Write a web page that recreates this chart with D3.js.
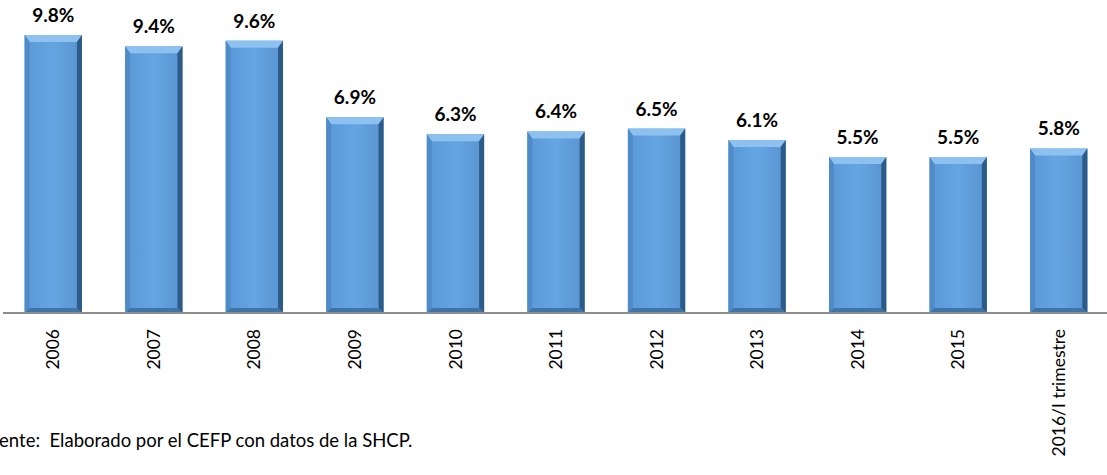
<!DOCTYPE html>
<html>
<head>
<meta charset="utf-8">
<script src="https://cdn.jsdelivr.net/npm/d3@7"></script>
<style>
  body { margin: 0; background: #fff; }
  svg { display: block; }
</style>
</head>
<body>
<div id="chart"></div>
<script>
// data
const categories = ["2006", "2007", "2008", "2009", "2010", "2011", "2012", "2013", "2014", "2015", "2016/I trimestre"];
const values = [9.8, 9.4, 9.6, 6.9, 6.3, 6.4, 6.5, 6.1, 5.5, 5.5, 5.8];
const source = "Fuente:  Elaborado por el CEFP con datos de la SHCP.";

const width = 1107, height = 475;
const baseY = 313;
const bev = 5;

const svg = d3.select("#chart").append("svg")
    .attr("width", width)
    .attr("height", height);

const defs = svg.append("defs");
// soft horizontal shading of the bar face
const gFace = defs.append("linearGradient").attr("id", "face").attr("x1", 0).attr("x2", 1).attr("y1", 0).attr("y2", 0);
gFace.append("stop").attr("offset", "0%").attr("stop-color", "#5a98d6");
gFace.append("stop").attr("offset", "50%").attr("stop-color", "#65a5e3");
gFace.append("stop").attr("offset", "100%").attr("stop-color", "#5893cf");

const x = d3.scaleBand()
    .domain(categories)
    .range([3, width + 2])
    .paddingInner(0.43)
    .paddingOuter(0.215);

const y = d3.scaleLinear()
    .domain([0, 9.8])
    .range([baseY, 35]);

const data = categories.map((c, i) => ({cat: c, val: values[i]}));

const bars = svg.append("g").selectAll("g.bar")
    .data(data)
    .enter().append("g")
    .attr("class", "bar");

// main body
bars.append("rect")
    .attr("x", d => x(d.cat))
    .attr("y", d => y(d.val))
    .attr("width", x.bandwidth())
    .attr("height", d => baseY - y(d.val))
    .attr("fill", "url(#face)");

function poly(pts) { return pts.map(p => p.join(",")).join(" "); }

// top bevel (light)
bars.append("polygon")
    .attr("points", d => {
        const x0 = x(d.cat), x1 = x0 + x.bandwidth(), t = y(d.val);
        return poly([[x0, t], [x1, t], [x1 - bev, t + bev + 2], [x0 + bev, t + bev + 2]]);
    })
    .attr("fill", "#8dc1ef");
// left bevel
bars.append("polygon")
    .attr("points", d => {
        const x0 = x(d.cat), t = y(d.val);
        return poly([[x0, t], [x0 + bev, t + bev + 2], [x0 + bev, baseY - bev], [x0, baseY]]);
    })
    .attr("fill", "#4f8bc6");
// right bevel (dark)
bars.append("polygon")
    .attr("points", d => {
        const x1 = x(d.cat) + x.bandwidth(), t = y(d.val);
        return poly([[x1, t], [x1 - bev, t + bev + 2], [x1 - bev, baseY - bev], [x1, baseY]]);
    })
    .attr("fill", "#2c5b88");
// bottom bevel
bars.append("polygon")
    .attr("points", d => {
        const x0 = x(d.cat), x1 = x0 + x.bandwidth();
        return poly([[x0, baseY], [x0 + bev, baseY - bev], [x1 - bev, baseY - bev], [x1, baseY]]);
    })
    .attr("fill", "#3f74a8");

// value labels
bars.append("text")
    .attr("x", d => x(d.cat) + x.bandwidth() / 2)
    .attr("y", d => y(d.val) - 13)
    .attr("text-anchor", "middle")
    .style("font-family", "Lato, 'Open Sans', sans-serif")
    .style("font-weight", "bold")
    .style("font-size", "19px")
    .style("fill", "#000")
    .text(d => d.val.toFixed(1) + "%");

// axis
const axis = svg.append("g")
    .attr("transform", "translate(0," + baseY + ")")
    .call(d3.axisBottom(x).tickSize(0).tickPadding(0));
axis.select(".domain").attr("stroke", "#8c8c8c").attr("stroke-width", 2)
    .attr("d", "M3,0H" + width);
axis.selectAll(".tick text")
    .attr("transform", "rotate(-90)")
    .attr("x", -16)
    .attr("y", 0)
    .attr("dy", "0.35em")
    .attr("text-anchor", "end")
    .style("font-family", "Lato, 'Open Sans', sans-serif")
    .style("font-size", "17.5px")
    .style("fill", "#000");

// source note (its left part is clipped in the original)
svg.append("text")
    .attr("x", -21)
    .attr("y", 447)
    .style("font-family", "Lato, 'Open Sans', sans-serif")
    .style("font-size", "18.5px")
    .style("fill", "#000")
    .style("white-space", "pre")
    .attr("xml:space", "preserve")
    .text(source);
</script>
</body>
</html>
